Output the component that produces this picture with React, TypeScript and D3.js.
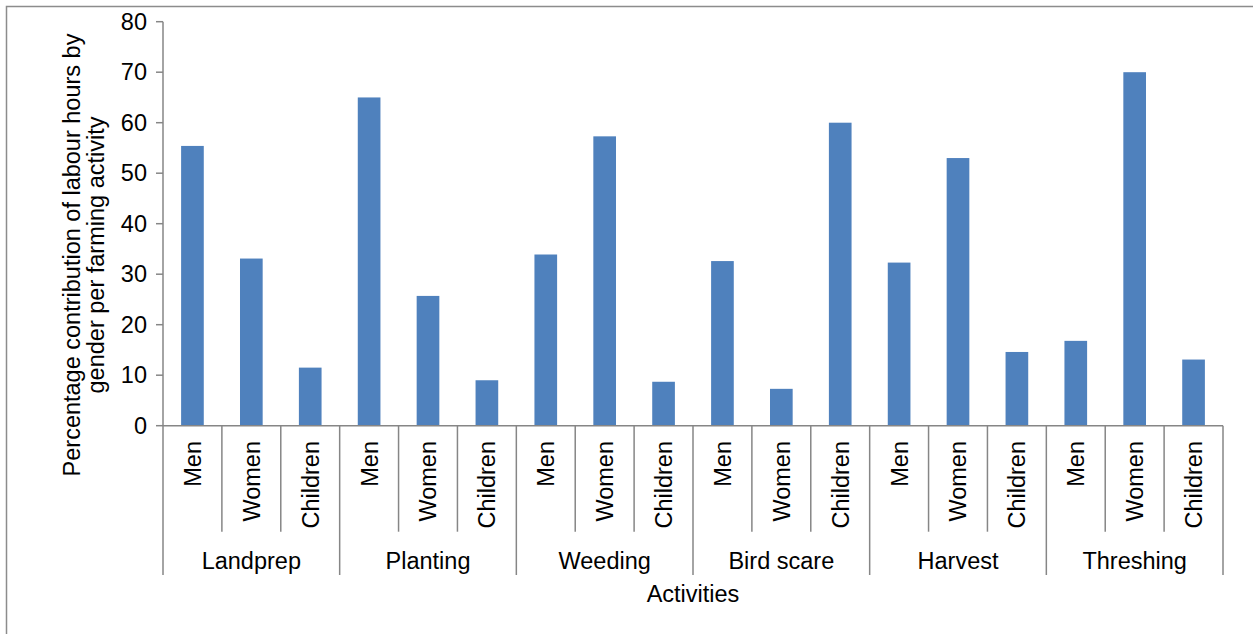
import * as d3 from 'd3';

const ACTIVITIES = ['Landprep', 'Planting', 'Weeding', 'Bird scare', 'Harvest', 'Threshing'];
const GENDERS = ['Men', 'Women', 'Children'];
const MEN = [55.4, 65.0, 33.9, 32.6, 32.3, 16.8];
const WOMEN = [33.1, 25.7, 57.3, 7.3, 53.0, 70.0];
const CHILDREN = [11.5, 9.0, 8.7, 60.0, 14.6, 13.1];
const Y_TICKS = [0, 10, 20, 30, 40, 50, 60, 70, 80];
const Y_TITLE = ['Percentage contribution of labour hours by', 'gender per farming activity'];
const X_TITLE = 'Activities';

const W = 1253;
const H = 634;
const FONT = 'Liberation Sans, Arial, sans-serif';
const AXIS = '#868686';
const BAR = '#4f81bd';

export default function App() {
  const left = 163;
  const right = 1223;
  const top = 21.7;
  const bottom = 425.7;

  const x0 = d3.scaleBand<string>().domain(ACTIVITIES).range([left, right]).padding(0);
  const x1 = d3
    .scaleBand<string>()
    .domain(GENDERS)
    .range([0, x0.bandwidth()])
    .paddingInner(0.615)
    .paddingOuter(0.3075);
  const slot = x0.bandwidth() / GENDERS.length;
  const y = d3.scaleLinear().domain([0, 80]).range([bottom, top]);

  const series: Record<string, number[]> = { Men: MEN, Women: WOMEN, Children: CHILDREN };
  const bars = ACTIVITIES.flatMap((a, i) =>
    GENDERS.map((g) => ({ a, g, v: series[g][i] }))
  );

  const subLineY = 531.7;
  const groupLineY = 575;
  const fs = 23.5;

  return (
    <svg
      width={W}
      height={H}
      style={{ position: 'absolute', left: 0, top: 0, background: '#fff' }}
      fontFamily={FONT}
    >
      <rect x={6.5} y={6.5} width={W + 10} height={H + 10} fill="#fff" stroke="#8c8c8c" strokeWidth={1.5} />

      {/* bars */}
      {bars.map((b) => (
        <rect
          key={b.a + b.g}
          x={(x0(b.a) ?? 0) + (x1(b.g) ?? 0)}
          y={y(b.v)}
          width={x1.bandwidth()}
          height={bottom - y(b.v)}
          fill={BAR}
        />
      ))}

      {/* y axis */}
      <line x1={left} x2={left} y1={top} y2={bottom} stroke={AXIS} strokeWidth={1.5} />
      {Y_TICKS.map((t) => (
        <g key={t}>
          <line x1={left - 7} x2={left} y1={y(t)} y2={y(t)} stroke={AXIS} strokeWidth={1.5} />
          <text x={147} y={y(t)} dy="0.35em" textAnchor="end" fontSize={fs} fill="#000">
            {t}
          </text>
        </g>
      ))}

      {/* x axis */}
      <line x1={left} x2={right} y1={bottom} y2={bottom} stroke={AXIS} strokeWidth={1.5} />
      {ACTIVITIES.map((a) =>
        GENDERS.map((g, j) => {
          const sx = (x0(a) ?? 0) + j * slot;
          const cx = sx + slot / 2;
          return (
            <g key={a + g}>
              {j > 0 && (
                <line x1={sx} x2={sx} y1={bottom} y2={subLineY} stroke={AXIS} strokeWidth={1.5} />
              )}
              <text
                transform={`translate(${cx + fs * 0.36},441) rotate(-90)`}
                textAnchor="end"
                fontSize={fs}
                fill="#000"
              >
                {g}
              </text>
            </g>
          );
        })
      )}
      {[...ACTIVITIES.map((a) => x0(a) ?? 0), right].map((gx, i) => (
        <line key={i} x1={gx} x2={gx} y1={bottom} y2={groupLineY} stroke={AXIS} strokeWidth={1.5} />
      ))}
      {ACTIVITIES.map((a) => (
        <text
          key={a}
          x={(x0(a) ?? 0) + x0.bandwidth() / 2}
          y={568.5}
          textAnchor="middle"
          fontSize={fs}
          fill="#000"
        >
          {a}
        </text>
      ))}

      {/* titles */}
      <text x={(left + right) / 2} y={601.5} textAnchor="middle" fontSize={fs} fill="#000">
        {X_TITLE}
      </text>
      {Y_TITLE.map((line, i) => (
        <text
          key={i}
          transform={`translate(${80 + i * 24},255) rotate(-90)`}
          textAnchor="middle"
          fontSize={fs}
          fill="#000"
        >
          {line}
        </text>
      ))}
    </svg>
  );
}
